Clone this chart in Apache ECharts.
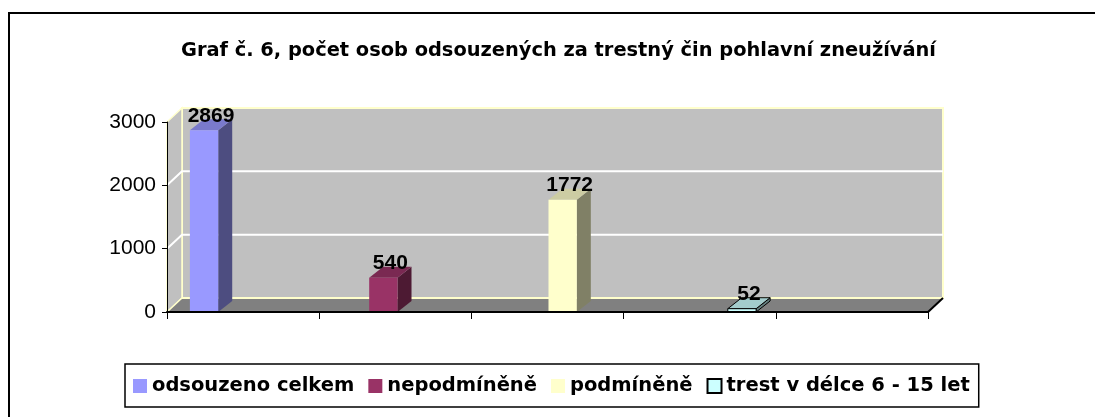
<!DOCTYPE html>
<html><head><meta charset="utf-8">
<script src="https://cdn.jsdelivr.net/npm/echarts@6/dist/echarts.min.js"></script>
<style>html,body{margin:0;padding:0;background:#fff}#c{width:1095px;height:417px}</style>
</head><body><div id="c"></div>
<script>
const titleText = 'Graf č. 6, počet osob odsouzených za trestný čin pohlavní zneužívání';
const seriesNames = ['odsouzeno celkem', 'nepodmíněně', 'podmíněně', 'trest v délce 6 - 15 let'];
const seriesValues = [2869, 540, 1772, 52];
const seriesColors = ['#9999FF', '#993366', '#FFFFCC', '#CCFFFF'];
const seriesOutlined = [false, false, false, true];
const yTicks = [0, 1000, 2000, 3000];
const floorSlots = 5;

function shade(hex, f) {
  const n = parseInt(hex.slice(1), 16);
  const r = Math.round(((n >> 16) & 255) * f), g = Math.round(((n >> 8) & 255) * f), b = Math.round((n & 255) * f);
  return 'rgb(' + r + ',' + g + ',' + b + ')';
}

const yMax = yTicks[yTicks.length - 1];
const yStep = yTicks[1] - yTicks[0];

function renderWalls(params, api) {
  const D = [15, -14];
  const fl = api.coord([0, 0]), fr = api.coord([floorSlots, 0]);
  const tl = api.coord([0, yMax]);
  const ch = [];
  ch.push({type: 'rect', shape: {x: fl[0] + D[0], y: tl[1] + D[1], width: fr[0] - fl[0], height: fl[1] - tl[1]},
    style: {fill: '#C0C0C0', stroke: '#FFFFCC', lineWidth: 2}});
  ch.push({type: 'polygon', shape: {points: [[fl[0], fl[1]], [tl[0], tl[1]], [tl[0] + D[0], tl[1] + D[1]], [fl[0] + D[0], fl[1] + D[1]]]},
    style: {fill: '#C0C0C0', stroke: '#FFFFCC', lineWidth: 1.5}});
  yTicks.slice(1, -1).forEach(function (v) {
    const p = api.coord([0, v]), q = api.coord([floorSlots, v]);
    ch.push({type: 'polyline', shape: {points: [[p[0], p[1]], [p[0] + D[0], p[1] + D[1]], [q[0] + D[0], q[1] + D[1]]]},
      style: {stroke: '#FFFFFF', lineWidth: 2, fill: null}});
  });
  ch.push({type: 'polygon', shape: {points: [[fl[0], fl[1]], [fr[0], fr[1]], [fr[0] + D[0], fr[1] + D[1]], [fl[0] + D[0], fl[1] + D[1]]]},
    style: {fill: '#808080'}});
  ch.push({type: 'line', shape: {x1: fl[0] + D[0], y1: fl[1] + D[1], x2: fr[0] + D[0], y2: fr[1] + D[1]}, style: {stroke: '#FFFFCC', lineWidth: 2}});
  ch.push({type: 'line', shape: {x1: fl[0], y1: fl[1], x2: fl[0] + D[0], y2: fl[1] + D[1]}, style: {stroke: '#FFFFCC', lineWidth: 1.5}});
  ch.push({type: 'line', shape: {x1: fr[0], y1: fr[1], x2: fr[0] + D[0], y2: fr[1] + D[1]}, style: {stroke: '#000', lineWidth: 2}});
  return {type: 'group', children: ch};
}

function makeBarRenderer(k) {
  return function (params, api) {
    const i = api.value(0), v = api.value(1);
    const top = api.coord([i, v]), base = api.coord([i, 0]);
    const band = api.size([1, 0])[0];
    const w = band * 0.158;
    const D = [14, -11];
    const x0 = top[0] - w / 2, x1 = top[0] + w / 2;
    const c = seriesColors[k];
    const st = seriesOutlined[k] ? {stroke: '#000', lineWidth: 1} : {};
    return {type: 'group', children: [
      {type: 'polygon', shape: {points: [[x1, base[1]], [x1, top[1]], [x1 + D[0], top[1] + D[1]], [x1 + D[0], base[1] + D[1]]]},
        style: Object.assign({fill: shade(c, 0.5)}, st)},
      {type: 'polygon', shape: {points: [[x0, top[1]], [x1, top[1]], [x1 + D[0], top[1] + D[1]], [x0 + D[0], top[1] + D[1]]]},
        style: Object.assign({fill: shade(c, 0.8)}, st)},
      {type: 'rect', shape: {x: x0, y: top[1], width: w, height: base[1] - top[1]},
        style: Object.assign({fill: c}, st)},
      {type: 'text', x: top[0] + D[0] / 2, y: top[1] - 14.5,
        style: {text: String(v), fill: '#000', font: 'bold 21px "Liberation Sans", Arial', align: 'center', verticalAlign: 'middle'}}
    ]};
  };
}

const series = [{
  type: 'custom', xAxisIndex: 0, yAxisIndex: 0, z: 1, silent: true,
  renderItem: renderWalls, data: [[0, 0]]
}];
seriesNames.forEach(function (name, k) {
  series.push({
    type: 'custom', name: name, xAxisIndex: 1, yAxisIndex: 1, z: 3,
    itemStyle: seriesOutlined[k] ? {color: seriesColors[k], borderColor: '#000', borderWidth: 1} : {color: seriesColors[k]},
    renderItem: makeBarRenderer(k),
    data: [[k, seriesValues[k]]]
  });
});

const chart = echarts.init(document.getElementById('c'));
chart.setOption({
  animation: false,
  backgroundColor: '#fff',
  title: {
    text: titleText, left: 181, top: 41, padding: 0,
    textStyle: {fontFamily: 'DejaVu Sans', fontWeight: 'bold', fontSize: 19.4, color: '#000'}
  },
  legend: {
    left: 125, top: 364, padding: [12, 9, 11, 8],
    itemWidth: 14, itemHeight: 14, itemGap: 14, icon: 'rect',
    borderColor: '#000', borderWidth: 1.5,
    textStyle: {fontFamily: 'DejaVu Sans', fontWeight: 'bold', fontSize: 19.5, color: '#000'},
    data: seriesNames
  },
  grid: [
    {left: 167, right: 167, top: 122, bottom: 105},
    {left: 114.4, right: 263.4, top: 122, bottom: 105}
  ],
  xAxis: [
    {type: 'value', gridIndex: 0, min: 0, max: floorSlots, interval: 1, z: 4,
      axisLine: {show: true, lineStyle: {color: '#000', width: 2}},
      axisTick: {show: true, length: 7, lineStyle: {color: '#000', width: 1}},
      axisLabel: {show: false}, splitLine: {show: false}},
    {type: 'category', gridIndex: 1, data: seriesNames, show: false}
  ],
  yAxis: [
    {type: 'value', gridIndex: 0, min: 0, max: yMax, interval: yStep, z: 4,
      axisLine: {show: true, lineStyle: {color: '#000', width: 1}},
      axisTick: {show: true, length: 5, lineStyle: {color: '#000'}},
      axisLabel: {margin: 11, color: '#000', fontFamily: 'Liberation Sans', fontSize: 21, formatter: function (v) { return String(v); }},
      splitLine: {show: false}},
    {type: 'value', gridIndex: 1, min: 0, max: yMax, show: false}
  ],
  graphic: [{type: 'rect', shape: {x: 9, y: 13, width: 1100, height: 420}, style: {fill: null, stroke: '#000', lineWidth: 2}, z: 10}],
  series: series
});
</script></body></html>
